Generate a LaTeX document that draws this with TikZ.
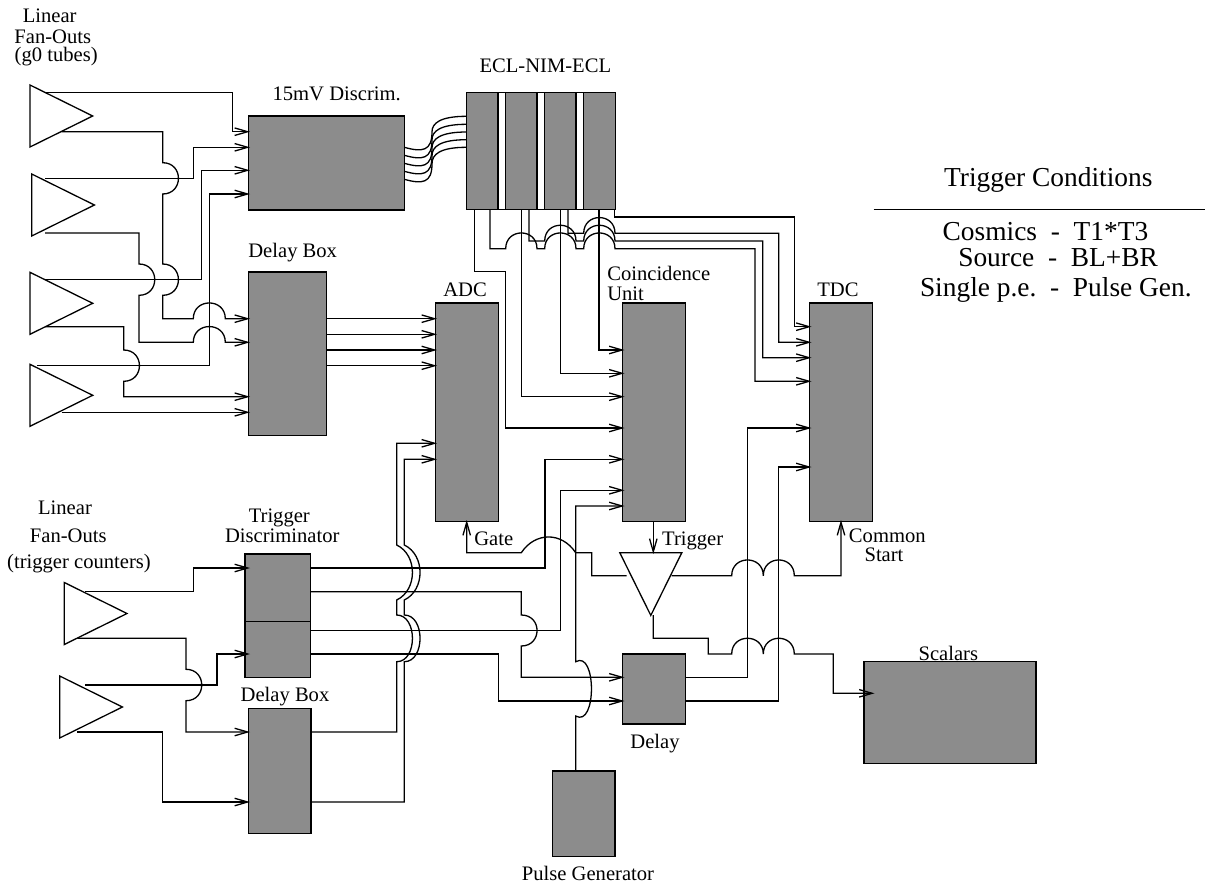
\documentclass[tikz,border=0pt]{standalone}
\usepackage{fontspec}
\setmainfont{Liberation Serif}
\usetikzlibrary{arrows.meta,shapes.geometric}
\definecolor{boxgray}{HTML}{8C8C8C}
\newcommand{\hopr}[3]{-- (#1,#2) .. controls +(21,0) and +(21,0) .. (#1,#3)}
\newcommand{\hopu}[3]{-- (#2,#1) .. controls +(0,-21) and +(0,-21) .. (#3,#1)}
\newcommand{\hopv}[3]{-- (#1,#2) .. controls +(21,12) and +(21,-12) .. (#1,#3)}
\tikzset{
  blk/.style={draw=black,fill=boxgray,line width=1.4pt,inner sep=0pt,outer sep=0pt,anchor=north west},
  tri/.style={draw=black,fill=white,line width=1.3pt,inner sep=0pt,outer sep=0pt,isosceles triangle,
    isosceles triangle stretches,shape border rotate=0,minimum height=62.7pt,minimum width=62pt,anchor=lower side},
  wire/.style={draw=black,line width=1.3pt,line join=miter},
  arr/.style={wire,-{Straight Barb[length=13pt,width=7.5pt,line width=1.3pt]}},
  lab/.style={inner sep=0pt,outer sep=0pt,anchor=base,font=\fontsize{20.6}{22}\selectfont},
  big/.style={inner sep=0pt,outer sep=0pt,anchor=base,font=\fontsize{27.4}{30}\selectfont},
}
\begin{document}
\begin{tikzpicture}[x=1pt,y=-1pt]
\useasboundingbox (0,0) rectangle (1205,886);
% triangles
\node[tri] (t1) at (30,116) {};
\node[tri] (t2) at (31.7,205) {};
\node[tri] (t3) at (30,303.3) {};
\node[tri] (t4) at (30,395.3) {};
\node[tri] (t5) at (64.3,613.5) {};
\node[tri] (t6) at (59.7,707) {};
\node[tri,shape border rotate=-90,anchor=lower side] (t7) at (650.8,552.7) {};
% boxes
\node[blk,minimum width=156pt,minimum height=94pt] (disc) at (248.3,116) {};
\node[blk,minimum width=78pt,minimum height=163.7pt] (dly1) at (248.3,272) {};
\node[draw=black,line width=1.4pt,fill=white,inner sep=0pt,outer sep=0pt,anchor=north west,minimum width=148.6pt,minimum height=117pt] (eclb) at (466.7,92.7) {};
\node[blk,minimum width=31.3pt,minimum height=117pt] (e1) at (466.7,92.7) {};
\node[blk,minimum width=31.3pt,minimum height=117pt] (e2) at (505.7,92.7) {};
\node[blk,minimum width=31.3pt,minimum height=117pt] (e3) at (544.7,92.7) {};
\node[blk,minimum width=31.6pt,minimum height=117pt] (e4) at (583.7,92.7) {};
\node[blk,minimum width=63pt,minimum height=218.3pt] (adc) at (435.3,303) {};
\node[blk,minimum width=62.6pt,minimum height=218.3pt] (coin) at (622.7,303) {};
\node[blk,minimum width=62.6pt,minimum height=218.3pt] (tdc) at (809.7,303) {};
\node[blk,minimum width=65.7pt,minimum height=67.3pt] (td1) at (245,554) {};
\node[blk,minimum width=65.7pt,minimum height=56pt] (td2) at (245,621.3) {};
\node[blk,minimum width=62.7pt,minimum height=125.4pt] (dly2) at (248.3,708.3) {};
\node[blk,minimum width=62.7pt,minimum height=85.7pt] (pulse) at (552.3,771) {};
\node[blk,minimum width=62.6pt,minimum height=70pt] (dly3) at (622.7,654) {};
\node[blk,minimum width=172pt,minimum height=101.6pt] (scal) at (864,661.7) {};
% free ends at the fan-out triangles
\coordinate (a1) at (45,92.7);
\coordinate (a2) at (61.7,131.7);
\coordinate (a3) at (45,178.3);
\coordinate (a4) at (45,233);
\coordinate (a5) at (45,279.7);
\coordinate (a6) at (45,326.7);
\coordinate (a7) at (37.3,365.7);
\coordinate (a8) at (61.7,412.3);
\coordinate (b1) at (85,591.7);
\coordinate (b2) at (77.3,638.3);
\coordinate (b3) at (85,685);
\coordinate (b4) at (77.3,732);
\coordinate (c1) at (626.7,575.7);
\coordinate (c2) at (671.7,575.7);
\coordinate (c3) at (653.3,615);
% upper fan-outs
\draw[arr] (a1) -- (232.7,92.7) -- (232.7,131.7) -- (250,131.7);
\draw[arr] (a2) -- (162.7,131.7) \hopr{162.7}{162.7}{194} \hopr{162.7}{264}{295.3} -- (162.7,318.7) \hopu{318.7}{193.3}{225.3} -- (250,318.7);
\draw[arr] (a3) -- (193.3,178.3) -- (193.3,147.3) -- (250,147.3);
\draw[arr] (a4) -- (139,233) \hopr{139}{264}{295.3} -- (139,342.3) \hopu{342.3}{193.3}{225.3} -- (250,342.3);
\draw[arr] (a5) -- (201.3,279.7) -- (201.3,170.3) -- (250,170.3);
\draw[arr] (a6) -- (123.7,326.7) \hopr{123.7}{350}{381.3} -- (123.7,396.7) -- (250,396.7);
\draw[arr] (a7) -- (209.3,365.7) -- (209.3,194) -- (250,194);
\draw[arr] (a8) -- (250,412.3);
% discriminator to ECL bundle
\foreach \i/\ya/\yb in {1/147.3/116.3,2/155.3/124.3,3/163.3/132,4/171.3/139.7,5/179.3/147.3}{
  \draw[wire] (disc.east |- 0,\ya) .. controls +(18,5) and (432,\ya+4) .. (432,\ya-15.5) .. controls (432,\yb+7) and (440,\yb) .. (e1.west |- 0,\yb);
}
% delay box to ADC
\foreach \y in {318.7,334.3,350,365.7}{
  \draw[arr] (dly1.east |- 0,\y) -- (437,\y);
}
% ECL outputs
\draw[arr] (e1.south -| 474.7,0) -- (474.7,271.7) -- (505.7,271.7) -- (505.7,428) -- (624.5,428);
\draw[arr] (e1.south -| 490,0) -- (490,248.7) \hopu{248.7}{505.7}{537} \hopu{248.7}{544.7}{576} \hopu{248.7}{583.7}{615} -- (755,248.7) -- (755,381.3) -- (811.5,381.3);
\draw[arr] (e2.south -| 521.3,0) -- (521.3,396.7) -- (624.5,396.7);
\draw[arr] (e2.south -| 529,0) -- (529,241) \hopu{241}{544.7}{576} \hopu{241}{583.7}{615} -- (762.7,241) -- (762.7,357.7) -- (811.5,357.7);
\draw[arr] (e3.south -| 560.3,0) -- (560.3,373.3) -- (624.5,373.3);
\draw[arr] (e3.south -| 568,0) -- (568,233.3) \hopu{233.3}{583.7}{615} -- (778.7,233.3) -- (778.7,342.3) -- (811.5,342.3);
\draw[arr] (e4.south -| 599,0) -- (599,350) -- (624.5,350);
\draw[arr] (e4.south -| 614.3,0) -- (614.3,217) -- (794.3,217) -- (794.3,326.7) -- (811.5,326.7);
% lower fan-outs
\draw[arr] (b1) -- (193.3,591.7) -- (193.3,568) -- (250,568);
\draw[arr] (b2) -- (186,638.3) \hopr{186}{669.3}{700.7} -- (186,732) -- (250,732);
\draw[arr] (b3) -- (217,685) -- (217,654) -- (250,654);
\draw[arr] (b4) -- (162.7,732) -- (162.7,802) -- (250,802);
% lower delay box to ADC
\draw[arr] (dly2.east |- 0,732) -- (396.7,732) \hopr{396.7}{661.7}{615} -- (396.7,600) .. controls +(21,-10) and +(21,10) .. (396.7,545) -- (396.7,443.3) -- (437,443.3);
\draw[arr] (dly2.east |- 0,802) -- (404.3,802) \hopr{404.3}{661.7}{615} -- (404.3,600) .. controls +(21,-10) and +(21,10) .. (404.3,545) -- (404.3,459.3) -- (437,459.3);
% trigger discriminator outputs
\draw[arr] (td1.east |- 0,568) -- (545,568) -- (545,459.3) -- (624.5,459.3);
\draw[arr] (td1.east |- 0,591.7) -- (521.3,591.7) \hopr{521.3}{615}{646} -- (521.3,677.3) -- (624.5,677.3);
\draw[arr] (td2.east |- 0,630.7) -- (560.3,630.7) -- (560.3,490.3) -- (624.5,490.3);
\draw[arr] (td2.east |- 0,654) -- (498.3,654) -- (498.3,701) -- (624.5,701);
% pulse generator
\draw[arr] (pulse.north -| 575.7,0) \hopv{575.7}{716}{661.7} -- (575.7,506) -- (624.5,506);
% delay outputs
\draw[arr] (dly3.east |- 0,677.3) -- (747.3,677.3) -- (747.3,428) -- (811.5,428);
\draw[arr] (dly3.east |- 0,701) -- (778.3,701) -- (778.3,467) -- (811.5,467);
% trigger fan-out
\draw[arr] (coin.south -| 653.3,0) -- (653.3,554);
\draw[arr] (c1) -- (591.7,575.7) -- (591.7,552.7) -- (575.7,552.7) .. controls +(-14,-21) and +(14,-21) .. (521.3,552.7) -- (466.7,552.7) -- (466.7,520);
\draw[arr] (c2) \hopu{575.7}{731.7}{763.3} \hopu{575.7}{763.3}{794.3} -- (841,575.7) -- (841,520);
\draw[arr] (c3) -- (653.3,638.3) -- (708.3,638.3) -- (708.3,654) \hopu{654}{731.7}{763.3} \hopu{654}{763.3}{794.3} -- (833.3,654) -- (833.3,693.3) -- (874.5,693.3);
% labels
\node[lab] (l1) at (49.7,22.7) {Linear};
\node[lab] (l2) at (52.8,43.3) {Fan-Outs};
\node[lab] (l3) at (56.2,61) {(g0 tubes)};
\node[lab] (l4) at (336.7,100.7) {15mV Discrim.};
\node[lab] (l5) at (292.7,257.7) {Delay Box};
\node[lab] (l6) at (545.3,72.7) {ECL-NIM-ECL};
\node[lab] (l7) at (465,296.7) {ADC};
\node[lab,anchor=base west] (l8) at (607.3,280) {Coincidence};
\node[lab,anchor=base west] (l9) at (607.3,300) {Unit};
\node[lab] (l10) at (838,296.7) {TDC};
\node[lab] (l11) at (279.3,522.3) {Trigger};
\node[lab] (l12) at (282.3,542.3) {Discriminator};
\node[lab] (l13) at (65,514) {Linear};
\node[lab] (l14) at (68.3,542.3) {Fan-Outs};
\node[lab] (l15) at (79,568.3) {(trigger counters)};
\node[lab] (l16) at (285,701.7) {Delay Box};
\node[lab] (l17) at (493.7,545) {Gate};
\node[lab] (l18) at (692.7,545) {Trigger};
\node[lab] (l19) at (887.3,542) {Common};
\node[lab] (l20) at (884,561.7) {Start};
\node[lab] (l21) at (655,748.3) {Delay};
\node[lab] (l22) at (948.3,660) {Scalars};
\node[lab] (l23) at (588,880) {Pulse Generator};
% trigger conditions
\node[big] (k1) at (1048.3,186) {Trigger Conditions};
\coordinate (r1) at (873.7,209.5);
\coordinate (r2) at (1205,209.5);
\draw[wire] (r1) -- (r2);
\node[big,anchor=base west] (k2) at (942.7,240.7) {Cosmics\ \ -\ \ T1*T3};
\node[big,anchor=base west] (k3) at (958.3,266.7) {Source\ \ -\ \ BL+BR};
\node[big,anchor=base west] (k4) at (920,296) {Single p.e.\ \ -\ \ Pulse Gen.};
\end{tikzpicture}
\end{document}
